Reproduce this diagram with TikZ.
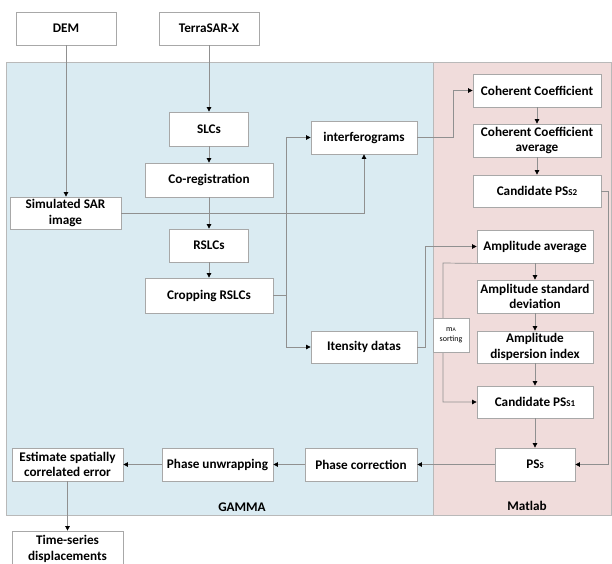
\documentclass[tikz,border=0pt]{standalone}
\usepackage{fontspec}
\setmainfont{Carlito}
\usetikzlibrary{arrows.meta,calc}
\definecolor{gammabg}{HTML}{DAEBF2}
\definecolor{matbg}{HTML}{F0DCDB}
\definecolor{edgegray}{HTML}{A8A8A8}
\definecolor{linegray}{HTML}{909090}
\tikzset{
  box/.style={draw=edgegray, line width=0.8pt, fill=white, align=center, inner sep=1pt,
    font=\fontsize{13.2}{15.5}\selectfont\bfseries},
  arr/.style={draw=linegray, line width=0.7pt, -{Triangle[length=4.5pt,width=4.5pt,fill=black,color=black]}},
  ln/.style={draw=linegray, line width=0.7pt},
  region/.style={draw=edgegray!80, line width=0.8pt},
  lab/.style={font=\fontsize{13.2}{15.5}\selectfont\bfseries}
}
\begin{document}
\begin{tikzpicture}[x=1pt,y=-1pt]
\useasboundingbox (0,0) rectangle (612,563);
\fill[white] (0,0) rectangle (612,563);
% regions
\filldraw[region, fill=gammabg] (6,62) rectangle (433,515);
\filldraw[region, fill=matbg] (433,62) rectangle (611,515);
\node[lab] (gamma) at (242,507) {GAMMA};
\node[lab] (matlab) at (527,506) {Matlab};

% boxes
\node[box, minimum width=100, minimum height=33] (dem) at (66,28.5) {DEM};
\node[box, minimum width=100, minimum height=33] (terra) at (209,28.5) {TerraSAR-X};
\node[box, minimum width=79, minimum height=34] (slc) at (209,129) {SLCs};
\node[box, minimum width=128, minimum height=34] (coreg) at (209,180) {Co-registration};
\node[box, minimum width=111, minimum height=32] (sim) at (65.5,213) {Simulated SAR\\image};
\node[box, minimum width=79, minimum height=33] (rslc) at (209,245.5) {RSLCs};
\node[box, minimum width=128, minimum height=35] (crop) at (209,295.5) {Cropping RSLCs};
\node[box, minimum width=106, minimum height=33] (interf) at (364,137.5) {interferograms};
\node[box, minimum width=106, minimum height=32] (itens) at (364,347) {Itensity datas};
\node[box, minimum width=128, minimum height=33] (cc) at (537,90.5) {Coherent Coefficient};
\node[box, minimum width=128, minimum height=33] (ccavg) at (537,140.5) {Coherent Coefficient\\average};
\node[box, minimum width=128, minimum height=32] (cand2) at (537,191) {Candidate PS{\small S2}};
\node[box, minimum width=116, minimum height=33] (ampavg) at (535,246.5) {Amplitude average};
\node[box, minimum width=116, minimum height=33] (ampstd) at (535,296.5) {Amplitude standard\\deviation};
\node[box, minimum width=116, minimum height=32] (ampdisp) at (535,347) {Amplitude\\dispersion index};
\node[box, minimum width=116, minimum height=32] (cand1) at (535,402) {Candidate PS{\small S1}};
\node[box, minimum width=80, minimum height=33] (pss) at (535,464.5) {PS{\small S}};
\node[box, minimum width=112, minimum height=33] (phcorr) at (361,464.5) {Phase correction};
\node[box, minimum width=111, minimum height=33] (phunw) at (217.5,464.5) {Phase unwrapping};
\node[box, minimum width=111, minimum height=33] (est) at (67.5,464.5) {Estimate spatially\\correlated error};
\node[box, minimum width=111, minimum height=36] (ts) at (67.5,549) {Time-series\\displacements};

% connectors
\draw[arr] (dem.south) -- (dem.south |- sim.north);
\draw[arr] (terra.south) -- (terra.south |- slc.north);
\draw[arr] (slc) -- (coreg);
\draw[arr] (coreg) -- (rslc);
\draw[arr] (rslc) -- (crop);
\draw[arr] (sim.east) -| (interf.south);
\coordinate (cj) at ($(crop.east)+(13,0)$);
\draw[ln] (crop.east) -- (cj);
\draw[arr] (cj) |- (interf.west);
\draw[arr] (cj) |- (itens.west);
\coordinate (ij) at ($(interf.east)+(36,0)$);
\draw[arr] (interf.east) -- (ij) |- (cc.west);
\coordinate (tj) at ($(itens.east)+(8,0)$);
\draw[arr] (itens.east) -- (tj) |- (ampavg.west);
\draw[arr] (cc) -- (ccavg);
\draw[arr] (ccavg) -- (cand2);
\coordinate (c2j) at (608,191);
\draw[arr] (cand2.east) -- (c2j) |- (pss.east);
\draw[arr] (ampavg) -- (ampstd);
\draw[arr] (ampstd) -- (ampdisp);
\draw[arr] (ampdisp) -- (cand1);
\draw[arr] (cand1) -- (pss);
\coordinate (mj) at (443,263);
\draw[arr] (ampavg.south west) -- (mj) |- (cand1.west);
\node[draw=edgegray, line width=0.6pt, fill=white, minimum width=36, minimum height=34, inner sep=0pt,
  align=center, font=\fontsize{8}{10}\selectfont] (ma) at (451,335) {m{\fontsize{5.5}{6}\selectfont A}\\sorting};
\draw[arr] (pss) -- (phcorr);
\draw[arr] (phcorr) -- (phunw);
\draw[arr] (phunw) -- (est);
\draw[arr] (est) -- (est |- ts.north);
\end{tikzpicture}
\end{document}
